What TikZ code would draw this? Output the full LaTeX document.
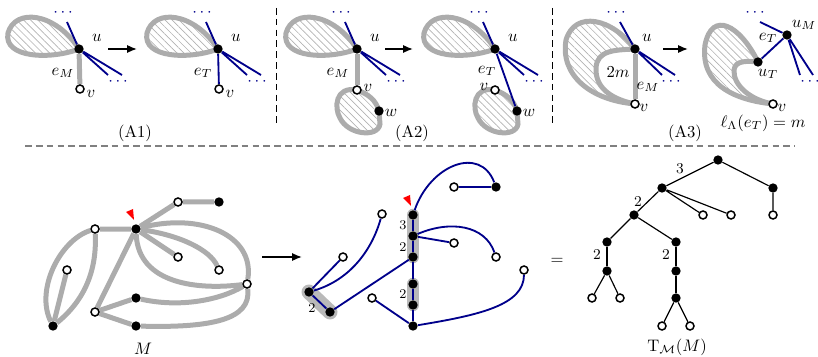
\documentclass[tikz,border=0pt]{standalone}
\usetikzlibrary{arrows.meta,patterns.meta}
\definecolor{navy}{RGB}{0,0,139}
\pgfdeclarelayer{bg}
\pgfsetlayers{bg,main}
\tikzset{
  bv/.style={circle, fill=black, inner sep=0pt, minimum size=5.6pt},
  wv/.style={circle, draw=black, fill=white, line width=0.9pt, inner sep=0pt, minimum size=4.8pt},
  gedge/.style={draw=gray!65, line width=3pt},
  tedge/.style={draw=navy, line width=1.1pt},
  bedge/.style={draw=black, line width=0.7pt},
  hatch/.style={pattern={Lines[angle=-45, distance=3pt, line width=0.4pt]}, pattern color=gray!60},
  hl/.style={draw=gray!55, line cap=round},
  dotsb/.style={text=navy, inner sep=0pt},
  arr/.style={-{Latex[length=6pt,width=5pt]}, line width=1pt},
  sepv/.style={draw=black, line width=0.6pt, dash pattern=on 4pt off 2.5pt},
  seph/.style={draw=gray, line width=0.8pt, dash pattern=on 4pt off 2.5pt},
  num/.style={font=\footnotesize, inner sep=0pt},
  tnum/.style={font=\small, inner sep=0pt},
}

\begin{document}
\begin{tikzpicture}[x=0.6pt, y=-0.6pt]
  \useasboundingbox (0,0) rectangle (818,357);

  % ---- (A1), before ----
  \node[bv] (a1-u) at (79,49) {};
  \node[wv] (a1-v) at (80,89) {};
  \coordinate (a1-s1) at (67,22);
  \coordinate (a1-s2) at (108,75);
  \coordinate (a1-s3) at (122,75);
  \node[dotsb] (a1-d1) at (63,13) {$\cdots$};
  \node[dotsb] (a1-d2) at (118,82) {$\cdots$};
  \node (a1-lu) at (97,38) {$u$};
  \node (a1-lv) at (91,94) {$v$};
  \node (a1-le) at (63,73) {$e_M$};
  \coordinate (a1-as) at (108,49);
  \coordinate (a1-ae) at (137,49);
  \draw[arr] (a1-as) -- (a1-ae);

  % ---- (A1), after ----
  \node[bv] (a1r-u) at (218,49) {};
  \node[wv] (a1r-v) at (219,89) {};
  \coordinate (a1r-s1) at (206,22);
  \coordinate (a1r-s2) at (247,75);
  \coordinate (a1r-s3) at (261,75);
  \node[dotsb] (a1r-d1) at (202,13) {$\cdots$};
  \node[dotsb] (a1r-d2) at (257,82) {$\cdots$};
  \node (a1r-lu) at (236,38) {$u$};
  \node (a1r-lv) at (230,94) {$v$};
  \node (a1r-le) at (203,73) {$e_T$};
  \node (a1-cap) at (135,133) {(A1)};

  % ---- (A2), before ----
  \node[bv] (a2-u) at (357,49) {};
  \node[wv] (a2-v) at (357,90) {};
  \node[bv] (a2-w) at (379,111) {};
  \coordinate (a2-s1) at (345,22);
  \coordinate (a2-s2) at (386,75);
  \coordinate (a2-s3) at (400,75);
  \node[dotsb] (a2-d1) at (341,13) {$\cdots$};
  \node[dotsb] (a2-d2) at (396,82) {$\cdots$};
  \node (a2-lu) at (375,38) {$u$};
  \node (a2-lv) at (368,88) {$v$};
  \node (a2-lw) at (391,113) {$w$};
  \node (a2-le) at (338,73) {$e_M$};
  \coordinate (a2-as) at (385,49);
  \coordinate (a2-ae) at (413,49);
  \draw[arr] (a2-as) -- (a2-ae);

  % ---- (A2), after ----
  \node[bv] (a2r-u) at (495,49) {};
  \node[wv] (a2r-v) at (495,90) {};
  \node[bv] (a2r-w) at (517,111) {};
  \coordinate (a2r-s1) at (483,22);
  \coordinate (a2r-s2) at (524,75);
  \coordinate (a2r-s3) at (538,75);
  \node[dotsb] (a2r-d1) at (479,13) {$\cdots$};
  \node[dotsb] (a2r-d2) at (534,82) {$\cdots$};
  \node (a2r-lu) at (513,38) {$u$};
  \node (a2r-lv) at (484,87) {$v$};
  \node (a2r-lw) at (529,113) {$w$};
  \node (a2r-le) at (487,71) {$e_T$};
  \node (a2-cap) at (412,133) {(A2)};

  % ---- (A3), before ----
  \node[bv] (a3-u) at (635,49) {};
  \node[wv] (a3-v) at (635,104) {};
  \coordinate (a3-s1) at (620,22);
  \coordinate (a3-s2) at (662,75);
  \coordinate (a3-s3) at (675,75);
  \node[dotsb] (a3-d1) at (616,13) {$\cdots$};
  \node[dotsb] (a3-d2) at (671,82) {$\cdots$};
  \node (a3-lu) at (647,38) {$u$};
  \node (a3-lv) at (644,108) {$v$};
  \node (a3-le) at (648,87) {$e_M$};
  \node (a3-lm) at (618,72) {$2m$};
  \coordinate (a3-as) at (663,49);
  \coordinate (a3-ae) at (688,49);
  \draw[arr] (a3-as) -- (a3-ae);

  % ---- (A3), after ----
  \node[bv] (a3r-ut) at (758,62) {};
  \node[bv] (a3r-um) at (787,35) {};
  \node[wv] (a3r-v) at (773,104) {};
  \coordinate (a3r-s1) at (760,22);
  \coordinate (a3r-s2) at (800,75);
  \coordinate (a3r-s3) at (813,75);
  \node[dotsb] (a3r-d1) at (755,13) {$\cdots$};
  \node[dotsb] (a3r-d2) at (810,82) {$\cdots$};
  \node (a3r-le) at (768,38) {$e_T$};
  \node (a3r-lm) at (804,25) {$u_M$};
  \node (a3r-lt) at (768,74) {$u_T$};
  \node (a3r-lv) at (782,108) {$v$};
  \node (a3r-ll) at (763,123) {$\ell_\Lambda(e_T)=m$};
  \node (a3-cap) at (685,133) {(A3)};

  % separators
  \coordinate (sep1a) at (276,8);
  \coordinate (sep1b) at (276,125);
  \coordinate (sep2a) at (552,8);
  \coordinate (sep2b) at (552,125);
  \coordinate (sep3a) at (25,146);
  \coordinate (sep3b) at (795,146);
  \draw[sepv] (sep1a) -- (sep1b);
  \draw[sepv] (sep2a) -- (sep2b);
  \draw[seph] (sep3a) -- (sep3b);

  \begin{pgfonlayer}{bg}
    % loops and edges of the top row
    \draw[gedge, hatch] (a1-u.center) .. controls (55,12) and (15,8) .. (8,33)
      .. controls (3,58) and (50,60) .. (a1-u.center);
    \draw[gedge] (a1-u) -- (a1-v);
    \draw[gedge, hatch] (a1r-u.center) .. controls (194,12) and (154,8) .. (147,33)
      .. controls (142,58) and (189,60) .. (a1r-u.center);
    \draw[tedge] (a1r-u) -- (a1r-v);

    \draw[gedge, hatch] (a2-u.center) .. controls (333,12) and (293,8) .. (286,33)
      .. controls (281,58) and (328,60) .. (a2-u.center);
    \draw[gedge, hatch] (a2-v.center) .. controls (335,86) and (334,108) .. (340,118)
      .. controls (348,135) and (378,138) .. (380,124) -- (a2-w.center)
      .. controls (376,100) and (368,94) .. (a2-v.center);
    \draw[gedge] (a2-u) -- (a2-v);
    \draw[gedge, hatch] (a2r-u.center) .. controls (471,12) and (431,8) .. (424,33)
      .. controls (419,58) and (466,60) .. (a2r-u.center);
    \draw[gedge, hatch] (a2r-v.center) .. controls (473,86) and (472,108) .. (478,118)
      .. controls (486,135) and (516,138) .. (518,124) -- (a2r-w.center)
      .. controls (514,100) and (506,94) .. (a2r-v.center);
    \draw[tedge] (a2r-u) -- (a2r-w);

    \fill[hatch] (a3-u.center) .. controls (612,18) and (575,10) .. (566,40)
      .. controls (560,75) and (590,100) .. (a3-v.center)
      .. controls (615,100) and (595,90) .. (596,68)
      .. controls (597,50) and (615,50) .. (a3-u.center);
    \draw[gedge] (a3-u.center) .. controls (612,18) and (575,10) .. (566,40)
      .. controls (560,75) and (590,100) .. (a3-v.center);
    \draw[gedge] (a3-v.center) .. controls (615,100) and (595,90) .. (596,68)
      .. controls (597,50) and (615,50) .. (a3-u.center);
    \draw[gedge] (a3-u) -- (a3-v);

    \fill[hatch] (a3r-ut.center) .. controls (740,25) and (712,10) .. (705,45)
      .. controls (700,85) and (735,100) .. (a3r-v.center)
      .. controls (750,100) and (733,85) .. (734,70)
      .. controls (735,60) and (748,61) .. (a3r-ut.center);
    \draw[gedge] (a3r-ut.center) .. controls (740,25) and (712,10) .. (705,45)
      .. controls (700,85) and (735,100) .. (a3r-v.center);
    \draw[gedge] (a3r-v.center) .. controls (750,100) and (733,85) .. (734,70)
      .. controls (735,60) and (748,61) .. (a3r-ut.center);
    \draw[tedge] (a3r-ut) -- (a3r-um);

    % blue stubs
    \draw[tedge] (a1-u) -- (a1-s1) (a1-u) -- (a1-s2) (a1-u) -- (a1-s3);
    \draw[tedge] (a1r-u) -- (a1r-s1) (a1r-u) -- (a1r-s2) (a1r-u) -- (a1r-s3);
    \draw[tedge] (a2-u) -- (a2-s1) (a2-u) -- (a2-s2) (a2-u) -- (a2-s3);
    \draw[tedge] (a2r-u) -- (a2r-s1) (a2r-u) -- (a2r-s2) (a2r-u) -- (a2r-s3);
    \draw[tedge] (a3-u) -- (a3-s1) (a3-u) -- (a3-s2) (a3-u) -- (a3-s3);
    \draw[tedge] (a3r-um) -- (a3r-s1) (a3r-um) -- (a3r-s2) (a3r-um) -- (a3r-s3);
  \end{pgfonlayer}

  % ---- map M ----
  \node[bv] (m0) at (136,229) {};
  \node[wv] (m1) at (95,229) {};
  \node[wv] (m2) at (178,202) {};
  \node[bv] (m3) at (219,202) {};
  \node[wv] (m4) at (178,257) {};
  \node[wv] (m5) at (219,270) {};
  \node[wv] (m6) at (247,284) {};
  \node[wv] (m7) at (67,270) {};
  \node[bv] (m8) at (53,326) {};
  \node[wv] (m9) at (95,312) {};
  \node[bv] (m10) at (136,298) {};
  \node[bv] (m11) at (136,326) {};
  \node (m-lab) at (143,349) {$M$};
  \fill[red] (126,212) -- (133,209) -- (134,220) -- cycle;

  \begin{pgfonlayer}{bg}
    \draw[gedge] (m1) -- (m0) -- (m2) -- (m3);
    \draw[gedge] (m0) -- (m4);
    \draw[gedge] (m0) .. controls (180,235) and (210,250) .. (m5);
    \draw[gedge] (m0) .. controls (200,212) and (255,235) .. (m6);
    \draw[gedge] (m0) .. controls (138,285) and (200,290) .. (m6);
    \draw[gedge] (m0) -- (m9);
    \draw[gedge] (m9) -- (m10);
    \draw[gedge] (m9) -- (m11);
    \draw[gedge] (m10) .. controls (180,308) and (220,300) .. (m6);
    \draw[gedge] (m11) .. controls (210,328) and (252,320) .. (m6);
    \draw[gedge] (m1) .. controls (60,240) and (35,290) .. (m8);
    \draw[gedge] (m1) .. controls (97,270) and (85,300) .. (m8);
    \draw[gedge] (m7) -- (m8);
  \end{pgfonlayer}

  \coordinate (mid-as) at (262,257);
  \coordinate (mid-ae) at (302,257);
  \draw[arr] (mid-as) -- (mid-ae);

  % ---- tree drawn in the plane ----
  \node[bv] (t0) at (413,215) {};
  \node[bv] (t1) at (413,236) {};
  \node[bv] (t2) at (413,257) {};
  \node[bv] (t3) at (413,284) {};
  \node[bv] (t4) at (413,305) {};
  \node[bv] (t5) at (413,326) {};
  \node[bv] (t6) at (309,292) {};
  \node[bv] (t7) at (330,312) {};
  \node[wv] (t8) at (343,257) {};
  \node[wv] (t9) at (382,214) {};
  \node[wv] (t10) at (372,298) {};
  \node[wv] (t11) at (454,187) {};
  \node[bv] (t12) at (496,187) {};
  \node[wv] (t13) at (454,243) {};
  \node[wv] (t14) at (496,257) {};
  \node[wv] (t15) at (524,270) {};
  \node[num] (t-n1) at (403,225) {3};
  \node[num] (t-n2) at (403,247) {2};
  \node[num] (t-n3) at (403,294) {2};
  \node[num] (t-n4) at (312,308) {2};
  \fill[red] (403,198) -- (410,195) -- (411,206) -- cycle;

  \begin{pgfonlayer}{bg}
    \draw[hl, line width=7.5pt] (t0.center) -- (t2.center);
    \draw[hl, line width=7.5pt] (t3.center) -- (t4.center);
    \draw[hl, line width=9pt] (t6.center) -- (t7.center);
    \draw[tedge] (t0) .. controls (430,165) and (480,145) .. (t12);
    \draw[tedge] (t11) -- (t12);
    \draw[tedge] (t0) -- (t1) -- (t2) -- (t3) -- (t4) -- (t5);
    \draw[tedge] (t1) -- (t13);
    \draw[tedge] (t1) .. controls (450,220) and (485,225) .. (t14);
    \draw[tedge] (t2) -- (t7);
    \draw[tedge] (t6) -- (t7);
    \draw[tedge] (t6) -- (t8);
    \draw[tedge] (t6) .. controls (350,280) and (372,250) .. (t9);
    \draw[tedge] (t10) -- (t5);
    \draw[tedge] (t5) .. controls (480,315) and (524,305) .. (t15);
  \end{pgfonlayer}

  \node (eq) at (557,261) {$=$};

  % ---- labelled tree ----
  \node[bv] (r0) at (718,160) {};
  \node[bv] (r1) at (662,188) {};
  \node[bv] (r2) at (773,188) {};
  \node[wv] (r3) at (773,215) {};
  \node[bv] (r4) at (634,215) {};
  \node[wv] (r5) at (703,215) {};
  \node[wv] (r6) at (731,215) {};
  \node[bv] (r7) at (607,242) {};
  \node[bv] (r8) at (676,242) {};
  \node[bv] (r9) at (607,271) {};
  \node[bv] (r10) at (676,271) {};
  \node[wv] (r11) at (592,298) {};
  \node[wv] (r12) at (620,298) {};
  \node[bv] (r13) at (676,298) {};
  \node[wv] (r14) at (662,326) {};
  \node[wv] (r15) at (690,326) {};
  \node[tnum] (r-n1) at (680,169) {3};
  \node[tnum] (r-n2) at (638,202) {2};
  \node[tnum] (r-n3) at (597,255) {2};
  \node[tnum] (r-n4) at (666,255) {2};
  \node (r-lab) at (677,347) {$\mathrm{T}_{\mathcal{M}}(M)$};

  \draw[bedge] (r1) -- (r0) -- (r2) -- (r3);
  \draw[bedge] (r1) -- (r4) (r1) -- (r5) (r1) -- (r6);
  \draw[bedge] (r7) -- (r4) -- (r8);
  \draw[bedge] (r7) -- (r9) (r8) -- (r10) -- (r13);
  \draw[bedge] (r11) -- (r9) -- (r12);
  \draw[bedge] (r14) -- (r13) -- (r15);

\end{tikzpicture}
\end{document}
